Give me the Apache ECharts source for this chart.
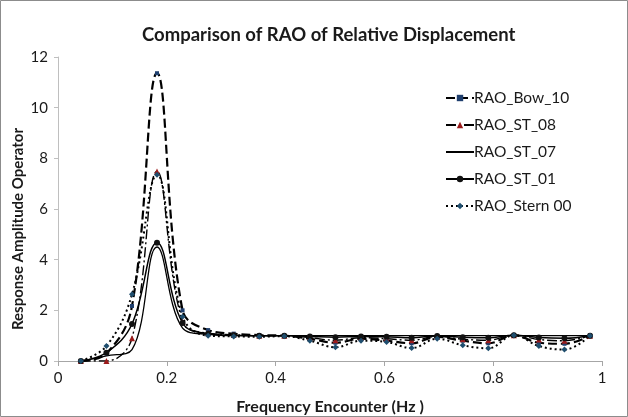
<!DOCTYPE html>
<html>
<head>
<meta charset="utf-8">
<script src="https://cdn.jsdelivr.net/npm/echarts@6/dist/echarts.min.js"></script>
<style>
html,body{margin:0;padding:0;background:#fff;}
#main{width:628px;height:417px;}
</style>
</head>
<body>
<div id="main"></div>
<script>
var freq=[0.042,0.089,0.136,0.182,0.229,0.276,0.323,0.370,0.416,0.463,0.510,0.557,0.604,0.650,0.697,0.744,0.791,0.838,0.884,0.931,0.978];
var rao_bow_10=[0,0.30,2.17,11.36,2.0,1.22,1.08,1.02,1.0,0.88,0.72,0.88,0.80,0.70,0.95,0.80,0.70,1.02,0.72,0.68,1.0];
var rao_st_08=[0,0,0.90,7.48,1.55,1.10,1.04,1.0,1.0,0.92,0.82,0.92,0.88,0.82,0.97,0.86,0.82,1.02,0.85,0.80,1.0];
var rao_st_07=[0,0.20,0.45,4.50,1.30,1.05,1.0,1.0,1.0,1.0,1.0,1.0,1.0,1.0,1.0,1.0,1.0,1.0,1.0,1.0,1.0];
var rao_st_01=[0,0.33,1.46,4.67,1.50,1.08,1.02,1.0,1.0,0.97,0.94,0.97,0.96,0.92,0.99,0.94,0.92,1.02,0.93,0.90,1.0];
var rao_stern_00=[0,0.59,2.63,7.35,1.75,1.0,0.97,0.96,0.98,0.80,0.54,0.80,0.75,0.51,0.88,0.62,0.50,1.02,0.59,0.45,1.0];
var series_names=['RAO_Bow_10','RAO_ST_08','RAO_ST_07','RAO_ST_01','RAO_Stern 00'];

function pairs(xs,ys){
	var out=[];
	for(var i=0;i<xs.length;i++) out.push([xs[i],ys[i]]);
	return out;
}

var myChart=echarts.init(document.getElementById('main'));
var font='Lato, "Open Sans", sans-serif';
var option={
	animation:false,
	textStyle:{fontFamily:font},
	title:{
		text:'Comparison of RAO of Relative Displacement',
		left:137,
		top:21,
		textStyle:{fontSize:18.5,fontWeight:'bold',color:'#1a1a1a',fontFamily:font}
	},
	graphic:[{
		type:'rect',
		shape:{x:0.5,y:0.5,width:627,height:416},
		style:{fill:'none',stroke:'#8c8c8c',lineWidth:1},
		silent:true
	},{
		type:'text',
		x:18,y:229,
		rotation:Math.PI/2,
		style:{text:'Response Amplitude Operator',font:'bold 15px '+font,fill:'#1a1a1a',align:'center',verticalAlign:'middle'},
		silent:true
	}],
	legend:{
		orient:'vertical',
		left:440,
		top:85,
		itemGap:11,
		itemWidth:28,
		itemHeight:8,
		textStyle:{fontSize:15.5,color:'#1a1a1a',fontFamily:font,padding:[0,0,0,-5]},
		data:[
			{name:'RAO_Bow_10'},
			{name:'RAO_ST_08'},
			{name:'RAO_ST_07',itemStyle:{opacity:0}},
			{name:'RAO_ST_01'},
			{name:'RAO_Stern 00'}
		]
	},
	grid:{left:58,right:26,top:57,bottom:56,containLabel:false,outerBoundsMode:'none'},
	xAxis:{
		type:'value',
		min:0,max:1,interval:0.2,
		name:'Frequency Encounter (Hz )',
		nameLocation:'middle',
		nameGap:38,
		nameTextStyle:{fontSize:16,fontWeight:'bold',color:'#1a1a1a',fontFamily:font},
		axisLine:{lineStyle:{color:'#a6a6a6'}},
		axisTick:{show:true,length:5,lineStyle:{color:'#a6a6a6'}},
		axisLabel:{fontSize:15,color:'#1a1a1a',margin:10,formatter:function(v){return String(+v.toFixed(1));}},
		splitLine:{show:false}
	},
	yAxis:{
		type:'value',
		min:0,max:12,interval:2,
		axisLine:{show:true,lineStyle:{color:'#bfbfbf'}},
		axisTick:{show:true,length:4,lineStyle:{color:'#bfbfbf'}},
		axisLabel:{fontSize:15,color:'#1a1a1a',margin:10},
		splitLine:{show:false}
	},
	series:[]
};

var styles=[
	{data:rao_bow_10,symbol:'rect',size:4,mcolor:'#1f3f6e',line:{type:[9,4],width:2.2}},
	{data:rao_st_08,symbol:'triangle',size:6,mcolor:'#9b1c1c',line:{type:[10,3,2,3],width:1.4}},
	{data:rao_st_07,symbol:'none',size:0,mcolor:'#000',line:{type:'solid',width:1.3}},
	{data:rao_st_01,symbol:'circle',size:6,mcolor:'#111',line:{type:'solid',width:1.5}},
	{data:rao_stern_00,symbol:'diamond',size:6,mcolor:'#1f4e6e',line:{type:[2,3],width:2}}
];
for(var i=0;i<series_names.length;i++){
	var s=styles[i];
	option.series.push({
		name:series_names[i],
		type:'line',
		smooth:0.4,
		symbol:s.symbol,
		symbolSize:s.size,
		showSymbol:s.symbol!=='none',
		itemStyle:{color:s.mcolor},
		lineStyle:{color:'#000',type:s.line.type,width:s.line.width},
		data:pairs(freq,s.data)
	});
}
myChart.setOption(option);
</script>
</body>
</html>
